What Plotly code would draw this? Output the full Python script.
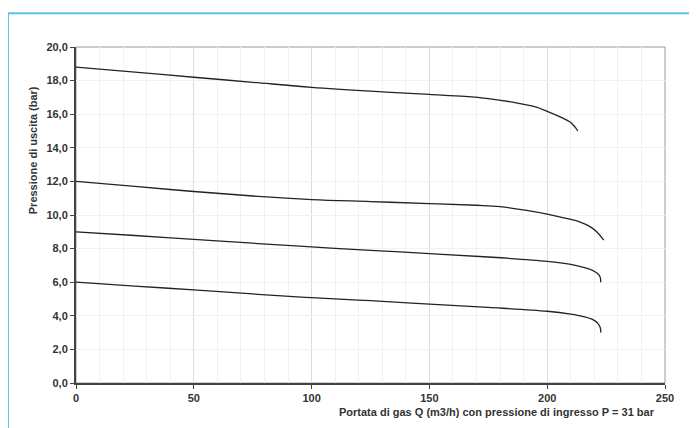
import plotly.graph_objects as go

q1 = [0, 25, 50, 75, 100, 125, 150, 165, 175, 185, 195, 200, 205, 210, 213]
p1 = [18.8, 18.5, 18.2, 17.9, 17.6, 17.37, 17.18, 17.06, 16.93, 16.72, 16.43, 16.17, 15.87, 15.5, 15.0]

q2 = [0, 25, 50, 75, 100, 125, 150, 170, 180, 190, 200, 208, 214, 218, 221, 224]
p2 = [12.0, 11.7, 11.4, 11.13, 10.92, 10.8, 10.68, 10.58, 10.5, 10.3, 10.05, 9.8, 9.58, 9.32, 9.0, 8.5]

q3 = [0, 25, 50, 75, 100, 125, 150, 175, 200, 210, 215, 219, 221.5, 222.5, 222.7]
p3 = [9.0, 8.78, 8.55, 8.32, 8.1, 7.9, 7.7, 7.5, 7.24, 7.06, 6.9, 6.72, 6.5, 6.3, 6.0]

q4 = [0, 25, 50, 75, 100, 125, 150, 175, 200, 210, 215, 219, 221.5, 222.5, 222.8]
p4 = [6.0, 5.77, 5.54, 5.3, 5.08, 4.9, 4.7, 4.5, 4.27, 4.1, 3.97, 3.8, 3.55, 3.3, 3.0]

x_title = "Portata di gas Q (m3/h) con pressione di ingresso P = 31 bar"
y_title = "Pressione di uscita (bar)"

FONT = "Liberation Sans, Arial, sans-serif"

fig = go.Figure()
for q, p in [(q1, p1), (q2, p2), (q3, p3), (q4, p4)]:
    fig.add_trace(go.Scatter(x=q, y=p, mode="lines",
                             line=dict(color="#222222", width=1.3, shape="spline", smoothing=1.0),
                             showlegend=False, hoverinfo="skip"))

fig.update_layout(
    width=697, height=428,
    margin=dict(l=68, r=40, t=39, b=53),
    paper_bgcolor="white", plot_bgcolor="white",
    separators=",.",
    font=dict(family=FONT, size=11, color="#333333"),
    xaxis=dict(range=[0, 250], dtick=50, tick0=0, showgrid=True, gridcolor="#dcdcdc", gridwidth=1,
               minor=dict(dtick=10, showgrid=True, gridcolor="#f1f1f1", gridwidth=1),
               showline=True, linecolor="#444444", linewidth=2,
               ticks="outside", ticklen=4, tickcolor="#444444", tickwidth=1,
               tickfont=dict(family=FONT, size=11, color="#333333", weight="bold"),
               zeroline=False),
    yaxis=dict(range=[0, 20], dtick=2, tick0=0, tickformat=".1f", showgrid=True, gridcolor="#f1f1f1",
               showline=True, linecolor="#444444", linewidth=2,
               ticks="outside", ticklen=4, tickcolor="#444444", tickwidth=1,
               tickfont=dict(family=FONT, size=11, color="#333333", weight="bold"),
               zeroline=False),
    shapes=[
        dict(type="rect", xref="paper", yref="paper", x0=0, x1=1, y0=0, y1=1,
             line=dict(color="#999999", width=1), layer="below"),
        dict(type="line", xref="paper", yref="paper", x0=-0.1155, x1=-0.1155, y0=-0.2, y1=1.1003,
             line=dict(color="#5bc0eb", width=2)),
        dict(type="line", xref="paper", yref="paper", x0=-0.1155, x1=1.1, y0=1.1003, y1=1.1003,
             line=dict(color="#5bc0eb", width=2)),
    ],
    annotations=[
        dict(text=x_title, xref="paper", yref="paper", x=0.986, y=-0.087, xanchor="right", yanchor="middle",
             showarrow=False, font=dict(family=FONT, size=11, color="#333333", weight="bold")),
        dict(text=y_title, xref="paper", yref="paper", x=-0.074, y=0.694, xanchor="center", yanchor="middle",
             textangle=-90, showarrow=False, font=dict(family=FONT, size=11, color="#333333", weight="bold")),
    ],
)

fig.write_html("out.html")
